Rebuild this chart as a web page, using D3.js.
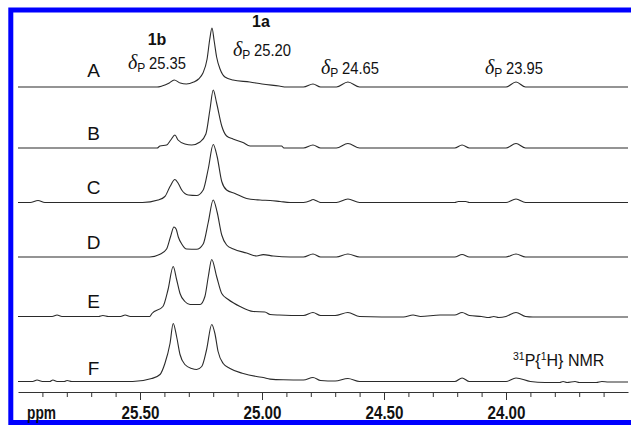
<!DOCTYPE html>
<html>
<head>
<meta charset="utf-8">
<script src="https://cdn.jsdelivr.net/npm/d3@7"></script>
<style>
  html, body { margin: 0; padding: 0; background: #fff; }
  svg { display: block; }
</style>
</head>
<body>
<svg id="chart" width="631" height="426"></svg>
<script>
// ---------------- DATA (ppm, intensity in arbitrary units) ----------------
const traceLabels = ["A", "B", "C", "D", "E", "F"];

const traceA = [[26.00,0],[25.43,0],[25.41,1],[25.38,4],[25.36,7],[25.335,4],[25.31,3],[25.28,5],[25.26,8],[25.242,14],[25.225,28],[25.214,48],[25.205,59],[25.196,46],[25.186,30],[25.172,18],[25.152,10],[25.119,7],[25.05,5],[25.00,3],[24.93,1],[24.90,0],
  [24.83,0],[24.791,3],[24.76,0],[24.695,0],[24.648,5],[24.60,0],[24.00,0],[23.959,5],[23.92,0],[23.50,0]];

const traceB = [[26.00,0],[25.43,0],[25.418,2],[25.391,3],[25.374,8],[25.357,13],[25.344,8],[25.316,4],[25.288,3],[25.254,6],[25.230,14],[25.213,39],[25.200,58],[25.186,45],[25.165,22],[25.145,12],[25.119,9],[25.078,5.5],[25.049,2],[24.92,2],[24.91,0],
  [24.83,0],[24.791,3],[24.76,0],[24.695,0],[24.648,4.5],[24.60,0],[24.21,0],[24.180,3],[24.15,0],[24.00,0],[23.959,4.5],[23.92,0],[23.50,0]];

const traceC = [[26.00,0],[25.95,0],[25.918,2],[25.89,0],[25.49,0],[25.426,2.5],[25.398,6],[25.377,16],[25.357,23],[25.343,19],[25.329,12.5],[25.302,7.5],[25.268,7],[25.241,12.5],[25.220,34],[25.200,58],[25.184,46],[25.165,21],[25.145,12.5],[25.111,9],[25.063,4],[25.008,2.5],[24.967,2],[24.926,1],[24.885,0],
  [24.83,0],[24.80,2],[24.791,3],[24.775,1.5],[24.76,0],[24.695,0],[24.648,3.5],[24.60,0],[24.21,0],[24.195,1],[24.165,1],[24.15,0],[24.00,0],[23.959,3.5],[23.92,0],[23.50,0]];

const traceD = [[26.00,0],[25.46,0],[25.418,2.7],[25.391,8],[25.374,21],[25.361,30],[25.352,28],[25.343,20],[25.329,13],[25.309,8],[25.268,7.7],[25.241,13],[25.220,35],[25.200,57],[25.184,45],[25.165,22],[25.145,12],[25.117,8],[25.063,4],[25.022,1],[24.995,2.4],[24.954,1],[24.885,0],
  [24.83,0],[24.791,3],[24.76,0],[24.695,0],[24.648,3],[24.60,0],[24.21,0],[24.180,2.5],[24.15,0],[24.00,0],[23.959,3],[23.92,0],[23.50,0]];

const traceE = [[26.00,0],[25.86,0],[25.84,1.5],[25.82,0],[25.67,0],[25.652,1],[25.63,0],[25.58,0],[25.561,1.5],[25.54,0],[25.46,0],[25.451,3],[25.406,10],[25.385,27],[25.364,50],[25.350,37],[25.336,23],[25.316,15],[25.295,12],[25.254,12],[25.234,20],[25.220,40],[25.206,57],[25.186,40],[25.165,23],[25.138,17],[25.090,10],[25.036,5],[24.988,4.5],[24.967,2],[24.93,1.5],
  [24.83,1],[24.791,4],[24.76,1],[24.70,1],[24.648,4],[24.60,0],[24.42,-0.5],[24.381,1.5],[24.35,0],[24.27,1.5],[24.21,1.5],[24.180,4],[24.15,1],[24.10,0],[24.07,-1],[24.05,0],[24.03,-1],[24.00,0],[23.959,4],[23.92,0],[23.89,-0.5],[23.50,-0.5]];

const traceF = [[26.00,0],[25.94,0],[25.922,1.5],[25.90,0],[25.87,0],[25.857,1.5],[25.84,0],[25.81,0],[25.799,1],[25.78,0],[25.53,0],[25.452,3],[25.418,7],[25.398,18],[25.377,38],[25.364,58],[25.350,45],[25.336,27],[25.316,17],[25.288,13],[25.268,12],[25.247,15],[25.227,32],[25.206,57],[25.193,48],[25.180,30],[25.159,18],[25.131,13],[25.077,8],[25.022,5],[24.995,4],[24.967,2.4],[24.913,1.7],
  [24.83,1.5],[24.791,4],[24.76,1],[24.70,0.5],[24.648,3],[24.60,0],[24.21,0],[24.180,3.5],[24.15,0],[24.00,0],[23.959,3.5],[23.90,0],[23.84,-1],[23.78,-1],[23.766,0],[23.75,-1],[23.717,0],[23.70,-1],[23.63,-1],[23.607,0],[23.58,-0.5],[23.50,-0.5]];

const traces = [traceA, traceB, traceC, traceD, traceE, traceF];

const majorTicks = [25.5, 25.0, 24.5, 24.0];
const minorTicks = [25.9, 25.8, 25.7, 25.6, 25.5, 25.4, 25.3, 25.2, 25.1, 25.0, 24.9, 24.8, 24.7, 24.6, 24.5, 24.4, 24.3, 24.2, 24.1, 24.0, 23.9, 23.8, 23.7, 23.6];

const peakNames = ["1b", "1a"];
const shiftLabels = ["25.35", "25.20", "24.65", "23.95"];

// ---------------- LAYOUT ----------------
const svg = d3.select("#chart");
const sans = "'Liberation Sans', Arial, Helvetica, sans-serif";

const x = d3.scaleLinear().domain([26.0, 23.5]).range([18, 628]);
const baselines = [87, 148, 202.5, 257, 316.5, 381.5];
const labelY = [77, 140, 194, 249, 308, 375];
const axisY = 392;

// frame
svg.append("rect")
  .attr("x", 10.8).attr("y", 10)
  .attr("width", 700).attr("height", 412.5)
  .attr("fill", "none")
  .attr("stroke", "#0000ff")
  .attr("stroke-width", 5);

// traces
traces.forEach((tr, i) => {
  const y = d3.scaleLinear().domain([0, 60]).range([baselines[i], baselines[i] - 60]);
  const line = d3.line()
    .x(d => x(d[0]))
    .y(d => y(d[1]))
    .curve(d3.curveMonotoneX);
  svg.append("path")
    .datum(tr)
    .attr("d", line)
    .attr("fill", "none")
    .attr("stroke", "#2a2a2a")
    .attr("stroke-width", 1.1)
    .attr("stroke-linejoin", "round");

  svg.append("text")
    .attr("x", 93.5).attr("y", labelY[i])
    .attr("text-anchor", "middle")
    .attr("font-family", sans)
    .attr("font-size", 19)
    .attr("fill", "#111")
    .text(traceLabels[i]);
});

// axis
const gMinor = svg.append("g")
  .attr("transform", `translate(0,${axisY})`)
  .call(d3.axisBottom(x).tickValues(minorTicks).tickSize(5).tickSizeOuter(0).tickFormat(""));
gMinor.select(".domain").attr("stroke", "#333");
gMinor.selectAll(".tick line").attr("stroke", "#333");

const gMajor = svg.append("g")
  .attr("transform", `translate(0,${axisY})`)
  .call(d3.axisBottom(x).tickValues(majorTicks).tickSize(8).tickSizeOuter(0).tickFormat(d3.format(".2f")));
gMajor.select(".domain").remove();
gMajor.selectAll(".tick line").attr("stroke", "#333");
gMajor.selectAll(".tick text")
  .attr("y", 27).attr("dy", 0)
  .attr("font-family", sans)
  .attr("font-weight", "bold")
  .attr("font-size", 18.5)
  .attr("textLength", 38)
  .attr("lengthAdjust", "spacingAndGlyphs")
  .attr("fill", "#111");

svg.append("text")
  .attr("x", 27).attr("y", 419)
  .attr("font-family", sans)
  .attr("font-weight", "bold")
  .attr("font-size", 18)
  .attr("textLength", 29)
  .attr("lengthAdjust", "spacingAndGlyphs")
  .attr("fill", "#111")
  .text("ppm");

// peak names
const nameX = [157, 261];
const nameY = [45, 27];
peakNames.forEach((n, i) => {
  svg.append("text")
    .attr("x", nameX[i]).attr("y", nameY[i])
    .attr("text-anchor", "middle")
    .attr("font-family", sans)
    .attr("font-weight", "bold")
    .attr("font-size", 16)
    .attr("fill", "#111")
    .text(n);
});

// shift labels
const shiftX = [128, 233, 321, 485];
const shiftY = [68.5, 56, 74, 74];
shiftLabels.forEach((s, i) => {
  const t = svg.append("text")
    .attr("x", shiftX[i]).attr("y", shiftY[i])
    .attr("fill", "#111");
  t.append("tspan")
    .attr("font-family", "'Liberation Serif', 'Times New Roman', serif")
    .attr("font-style", "italic")
    .attr("font-size", 20)
    .text("δ");
  t.append("tspan")
    .attr("font-family", sans)
    .attr("font-size", 12)
    .attr("dy", 3)
    .text("P");
  svg.append("text")
    .attr("x", shiftX[i] + 21).attr("y", shiftY[i])
    .attr("font-family", sans)
    .attr("font-size", 16.5)
    .attr("textLength", 37)
    .attr("lengthAdjust", "spacingAndGlyphs")
    .attr("fill", "#111")
    .text(s);
});

// NMR label
const nmr = svg.append("text")
  .attr("x", 513).attr("y", 366)
  .attr("font-family", sans)
  .attr("font-size", 16)
  .attr("fill", "#111");
nmr.append("tspan").attr("font-size", 10.5).attr("dy", -6).text("31");
nmr.append("tspan").attr("dy", 6).text("P{");
nmr.append("tspan").attr("font-size", 10.5).attr("dy", -6).text("1");
nmr.append("tspan").attr("dy", 6).text("H} NMR");
</script>
</body>
</html>
